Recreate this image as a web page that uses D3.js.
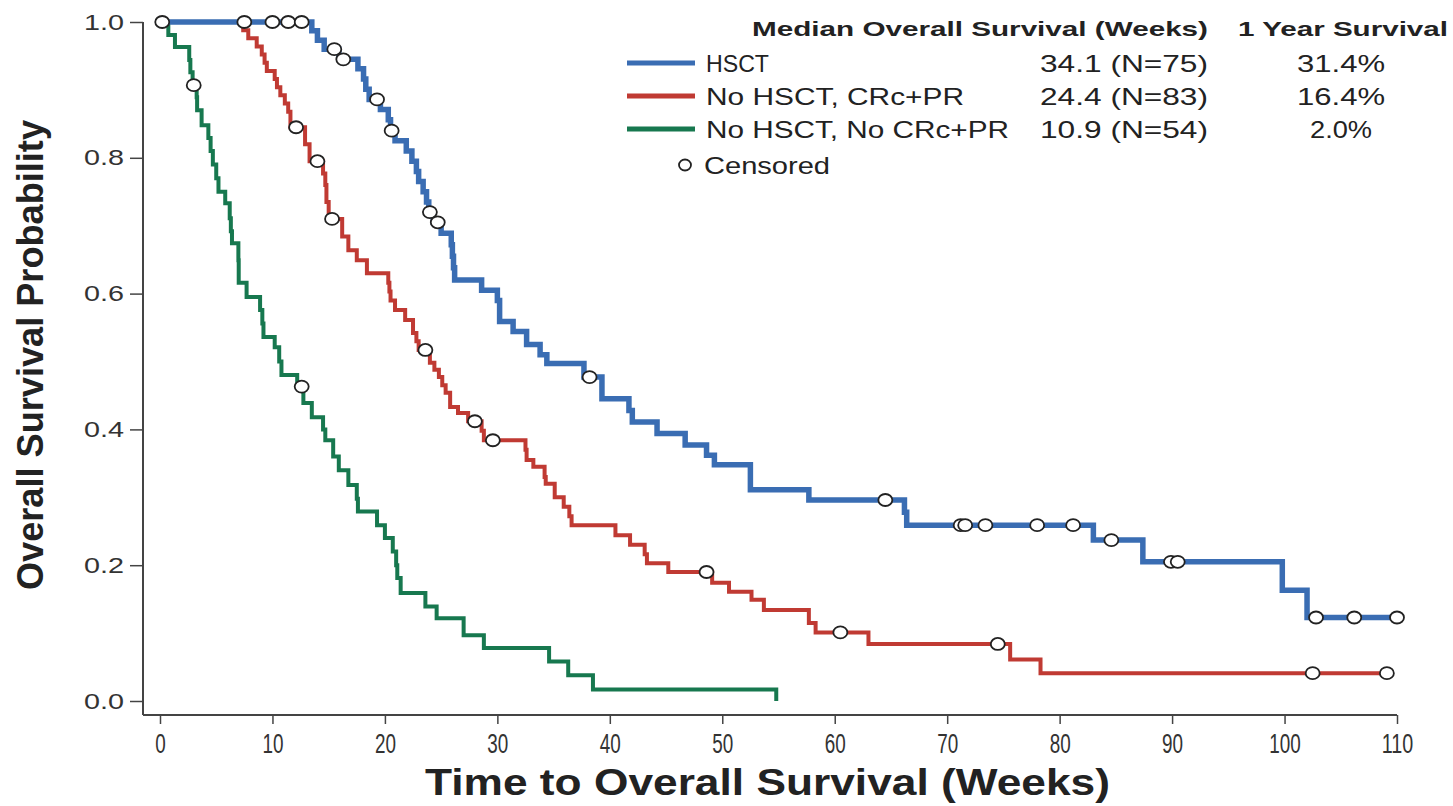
<!DOCTYPE html>
<html>
<head>
<meta charset="utf-8">
<script src="https://cdn.jsdelivr.net/npm/d3@7"></script>
<style>
  body { margin: 0; background: #fff; }
  text { font-family: "Liberation Sans", Arial, sans-serif; }
</style>
</head>
<body>
<script>
// Kaplan-Meier steps: time (weeks) and survival after each drop

const hsctTimes = [0, 13.5, 14.0, 14.6, 15.9, 17.6, 18.1, 18.3, 18.6, 19.6, 20.3, 20.5, 20.9, 21.9, 22.4, 22.8, 23.0, 23.4, 23.7, 23.9, 24.3, 25.0, 25.9, 26.0, 26.1, 26.2, 28.6, 30.0, 30.2, 31.4, 32.6, 33.8, 34.4, 37.7, 39.3, 41.7, 42.0, 44.2, 46.7, 48.6, 49.3, 52.5, 57.7, 66.2, 66.4, 83.0, 87.4, 99.8, 102.0];
const hsctSurv  = [1.0, 0.987, 0.973, 0.96, 0.945, 0.931, 0.916, 0.901, 0.886, 0.871, 0.856, 0.84, 0.825, 0.81, 0.795, 0.78, 0.765, 0.75, 0.735, 0.72, 0.705, 0.689, 0.672, 0.655, 0.638, 0.62, 0.605, 0.59, 0.559, 0.544, 0.525, 0.51, 0.497, 0.477, 0.445, 0.428, 0.411, 0.394, 0.377, 0.362, 0.348, 0.311, 0.296, 0.278, 0.259, 0.237, 0.205, 0.163, 0.123];
const hsctCensored = [0.2, 7.5, 10.0, 11.4, 12.6, 15.5, 16.3, 19.3, 20.6, 24.0, 24.7, 38.2, 64.5, 71.2, 71.6, 73.4, 78.0, 81.2, 84.6, 89.9, 90.5, 102.8, 106.2, 110.0];
const hsctEnd = 110.0;

const crTimes = [0, 7.4, 7.85, 8.6, 9.05, 9.3, 9.5, 10.2, 10.4, 10.7, 11.1, 11.4, 11.6, 12.9, 13.3, 14.5, 14.7, 14.8, 15.0, 16.2, 16.75, 17.5, 18.4, 20.3, 20.4, 20.5, 20.9, 21.8, 22.5, 22.8, 23.0, 24.0, 24.4, 24.8, 25.1, 25.4, 25.8, 26.5, 27.4, 28.6, 28.8, 32.5, 32.6, 33.2, 34.2, 34.3, 35.1, 35.9, 36.4, 36.6, 40.5, 41.8, 43.1, 43.3, 45.2, 49.1, 50.6, 52.6, 53.7, 57.7, 58.3, 63.0, 75.6, 78.3];
const crSurv  = [1.0, 0.988, 0.976, 0.964, 0.952, 0.94, 0.928, 0.916, 0.904, 0.892, 0.88, 0.868, 0.845, 0.82, 0.795, 0.777, 0.76, 0.735, 0.71, 0.684, 0.664, 0.649, 0.63, 0.616, 0.603, 0.59, 0.576, 0.561, 0.542, 0.53, 0.517, 0.498, 0.488, 0.477, 0.465, 0.454, 0.433, 0.424, 0.412, 0.398, 0.384, 0.37, 0.355, 0.345, 0.33, 0.32, 0.3, 0.286, 0.272, 0.259, 0.244, 0.23, 0.216, 0.203, 0.19, 0.174, 0.161, 0.149, 0.134, 0.115, 0.101, 0.084, 0.061, 0.041];
const crCensored = [12.1, 14.0, 15.3, 23.6, 28.0, 29.6, 48.6, 60.5, 74.5, 102.5, 109.1];
const crEnd = 109.1;

const noCrTimes = [0, 0.74, 1.33, 2.6, 2.7, 2.9, 3.26, 3.3, 3.7, 4.3, 4.5, 4.7, 5.0, 5.2, 5.8, 6.2, 6.3, 6.4, 6.97, 7.0, 7.7, 8.9, 9.1, 9.2, 10.2, 10.6, 10.8, 12.2, 12.75, 13.5, 14.5, 14.7, 15.4, 15.9, 16.75, 17.5, 17.6, 19.3, 20.0, 20.7, 21.0, 21.1, 21.4, 23.6, 24.6, 27.0, 28.8, 34.6, 36.3, 38.5, 54.8];
const noCrSurv  = [1.0, 0.981, 0.963, 0.944, 0.926, 0.907, 0.889, 0.87, 0.848, 0.829, 0.81, 0.79, 0.77, 0.75, 0.733, 0.711, 0.692, 0.674, 0.649, 0.616, 0.595, 0.576, 0.556, 0.536, 0.521, 0.5, 0.48, 0.463, 0.439, 0.418, 0.4, 0.384, 0.36, 0.34, 0.318, 0.298, 0.279, 0.259, 0.24, 0.22, 0.2, 0.181, 0.159, 0.139, 0.122, 0.097, 0.078, 0.058, 0.038, 0.017, 0.0];
const noCrCensored = [3.0, 12.6];
const noCrEnd = 54.8;

const groupNames = ["HSCT", "No HSCT, CRc+PR", "No HSCT, No CRc+PR"];
const groupColors = ["#3a6db3", "#c03a33", "#17784f"];
const medianLabels = ["34.1 (N=75)", "24.4 (N=83)", "10.9 (N=54)"];
const oneYearLabels = ["31.4%", "16.4%", "2.0%"];

const weekTicks = [0, 10, 20, 30, 40, 50, 60, 70, 80, 90, 100, 110];
const probTicks = [0.0, 0.2, 0.4, 0.6, 0.8, 1.0];

let margin = null, width = null, height = null;
let svg = null, root = null;
let x, y = null;

setupCanvasSize();
appendSvg("body");
setupScales();
appendAxes();
appendCurves();
appendLegend();
appendTitles();

function setupCanvasSize() {
  margin = {top: 22, left: 160, bottom: 105, right: 56};
  width = 1453 - margin.left - margin.right;
  height = 806 - margin.top - margin.bottom;
}

function appendSvg(domElement) {
  root = d3.select(domElement).append("svg")
    .attr("width", 1453)
    .attr("height", 806);
  svg = root.append("g")
    .attr("transform", `translate(${margin.left}, ${margin.top})`);
}

function setupScales() {
  x = d3.scaleLinear().domain([0, 110]).range([0, width]);
  y = d3.scaleLinear().domain([0, 1]).range([height, 0]);
}

function appendAxes() {
  const axisColor = "#444";
  const axisY0 = height + 14;   // x axis sits below the 0.0 line
  const axisX0 = -17;           // y axis sits left of week 0

  // x axis
  const gx = svg.append("g")
    .attr("transform", `translate(0, ${axisY0})`)
    .call(d3.axisBottom(x).tickValues(weekTicks).tickSize(9).tickPadding(10).tickSizeOuter(0));
  gx.select(".domain").attr("d", `M${axisX0},0H${x(110)}`);
  gx.selectAll("line").attr("stroke", axisColor).attr("stroke-width", 1.5);
  gx.select(".domain").attr("stroke", axisColor).attr("stroke-width", 2);
  gx.selectAll("text")
    .attr("fill", "#333")
    .style("font-size", "27px")
    .attr("textLength", d => String(d).length * 10.5)
    .attr("lengthAdjust", "spacingAndGlyphs");

  // y axis
  const gy = svg.append("g")
    .attr("transform", `translate(${axisX0}, 0)`)
    .call(d3.axisLeft(y).tickValues(probTicks).tickFormat(d3.format(".1f")).tickSize(13).tickPadding(6).tickSizeOuter(0));
  gy.select(".domain").attr("d", `M0,${y(1)}V${axisY0}`);
  gy.selectAll("line").attr("stroke", axisColor).attr("stroke-width", 1.5);
  gy.select(".domain").attr("stroke", axisColor).attr("stroke-width", 2);
  gy.selectAll("text")
    .attr("fill", "#333")
    .style("font-size", "22px")
    .attr("textLength", 40)
    .attr("lengthAdjust", "spacingAndGlyphs");
}

function stepValue(times, surv, t) {
  let v = surv[0];
  for (let i = 0; i < times.length; i++) {
    if (times[i] <= t) v = surv[i];
  }
  return v;
}

function appendCurves() {
  const groups = [
    {times: noCrTimes, surv: noCrSurv, cens: noCrCensored, end: noCrEnd, color: groupColors[2], w: 4},
    {times: crTimes, surv: crSurv, cens: crCensored, end: crEnd, color: groupColors[1], w: 4},
    {times: hsctTimes, surv: hsctSurv, cens: hsctCensored, end: hsctEnd, color: groupColors[0], w: 5.5}
  ];

  const line = d3.line()
    .x(d => x(d.t))
    .y(d => y(d.s))
    .curve(d3.curveStepAfter);

  groups.forEach(g => {
    const pts = g.times.map((t, i) => ({t: t, s: g.surv[i]}));
    const last = pts[pts.length - 1];
    if (g.end > last.t) pts.push({t: g.end, s: last.s});
    svg.append("path")
      .datum(pts)
      .attr("fill", "none")
      .attr("stroke", g.color)
      .attr("stroke-width", g.w)
      .attr("d", line);
  });

  groups.forEach(g => {
    svg.selectAll(null)
      .data(g.cens)
      .enter().append("ellipse")
      .attr("cx", d => x(d))
      .attr("cy", d => y(stepValue(g.times, g.surv, d)))
      .attr("rx", 7)
      .attr("ry", 6)
      .attr("fill", "#fff")
      .attr("stroke", "#222")
      .attr("stroke-width", 1.8);
  });
}

function appendLegend() {
  const lg = root.append("g");

  lg.append("text")
    .attr("x", 752).attr("y", 36)
    .style("font-size", "21px").style("font-weight", "bold").attr("fill", "#222")
    .attr("textLength", 456).attr("lengthAdjust", "spacingAndGlyphs")
    .text("Median Overall Survival (Weeks)");
  lg.append("text")
    .attr("x", 1238).attr("y", 36)
    .style("font-size", "21px").style("font-weight", "bold").attr("fill", "#222")
    .attr("textLength", 210).attr("lengthAdjust", "spacingAndGlyphs")
    .text("1 Year Survival");

  const rowY = [63, 96, 129];
  const nameWidths = [63, 258, 303];
  const pctWidths = [88, 88, 62];

  groupNames.forEach((name, i) => {
    lg.append("line")
      .attr("x1", 627).attr("x2", 695)
      .attr("y1", rowY[i]).attr("y2", rowY[i])
      .attr("stroke", groupColors[i]).attr("stroke-width", 5);
    lg.append("text")
      .attr("x", 706).attr("y", rowY[i] + 9)
      .style("font-size", "24px").attr("fill", "#222")
      .attr("textLength", nameWidths[i]).attr("lengthAdjust", "spacingAndGlyphs")
      .text(name);
    lg.append("text")
      .attr("x", 1040).attr("y", rowY[i] + 9)
      .style("font-size", "24px").attr("fill", "#222")
      .attr("textLength", 168).attr("lengthAdjust", "spacingAndGlyphs")
      .text(medianLabels[i]);
    lg.append("text")
      .attr("x", 1341 - pctWidths[i] / 2).attr("y", rowY[i] + 9)
      .style("font-size", "24px").attr("fill", "#222")
      .attr("textLength", pctWidths[i]).attr("lengthAdjust", "spacingAndGlyphs")
      .text(oneYearLabels[i]);
  });

  lg.append("ellipse")
    .attr("cx", 685).attr("cy", 165)
    .attr("rx", 6).attr("ry", 5.5)
    .attr("fill", "#fff").attr("stroke", "#222").attr("stroke-width", 1.8);
  lg.append("text")
    .attr("x", 704).attr("y", 174)
    .style("font-size", "24px").attr("fill", "#222")
    .attr("textLength", 126).attr("lengthAdjust", "spacingAndGlyphs")
    .text("Censored");
}

function appendTitles() {
  root.append("text")
    .attr("x", 425).attr("y", 795)
    .style("font-size", "37px").style("font-weight", "bold").attr("fill", "#222")
    .attr("textLength", 685).attr("lengthAdjust", "spacingAndGlyphs")
    .text("Time to Overall Survival (Weeks)");

  root.append("text")
    .attr("transform", "translate(43, 590) rotate(-90)")
    .style("font-size", "36px").style("font-weight", "bold").attr("fill", "#222")
    .attr("textLength", 470).attr("lengthAdjust", "spacingAndGlyphs")
    .text("Overall Survival Probability");
}
</script>
</body>
</html>
